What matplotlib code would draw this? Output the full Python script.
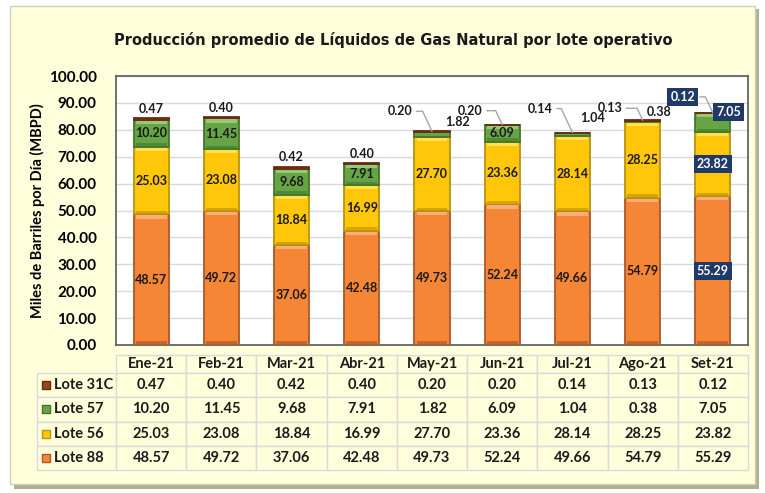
import matplotlib.pyplot as plt
import numpy as np
from matplotlib.patches import Rectangle

# data
months = ['Ene-21', 'Feb-21', 'Mar-21', 'Abr-21', 'May-21', 'Jun-21', 'Jul-21', 'Ago-21', 'Set-21']
lote_88 = [48.57, 49.72, 37.06, 42.48, 49.73, 52.24, 49.66, 54.79, 55.29]
lote_56 = [25.03, 23.08, 18.84, 16.99, 27.70, 23.36, 28.14, 28.25, 23.82]
lote_57 = [10.20, 11.45, 9.68, 7.91, 1.82, 6.09, 1.04, 0.38, 7.05]
lote_31c = [0.47, 0.40, 0.42, 0.40, 0.20, 0.20, 0.14, 0.13, 0.12]
series_names = ['Lote 31C', 'Lote 57', 'Lote 56', 'Lote 88']

# style
fill = {'Lote 88': '#F58636', 'Lote 56': '#FFC60A', 'Lote 57': '#67A446', 'Lote 31C': '#9A4420'}
edge = {'Lote 88': '#A8592A', 'Lote 56': '#B89410', 'Lote 57': '#44752E', 'Lote 31C': '#6A2A10'}
light = {'Lote 88': '#F9AE78', 'Lote 56': '#FFE24E', 'Lote 57': '#98C77A', 'Lote 31C': '#B8653F'}
dark = {'Lote 88': '#C4652A', 'Lote 56': '#D9A400', 'Lote 57': '#4F8A35', 'Lote 31C': '#6A2A10'}
cream = '#FFFFDC'
navy = '#1F3A68'
FONT = 'Lato'

W, H = 765, 493
fig = plt.figure(figsize=(W / 100, H / 100), dpi=100, facecolor='white')

# frame with shadow
fig.patches.append(Rectangle((14 / W, 1 - 489 / H), 745 / W, 480 / H, transform=fig.transFigure,
                             facecolor='#B4AE93', edgecolor='none', zorder=-3))
fig.patches.append(Rectangle((10 / W, 1 - 484 / H), 745 / W, 478 / H, transform=fig.transFigure,
                             facecolor=cream, edgecolor='#D3CFB5', lw=1, zorder=-2))

AX_L, AX_R, AX_T, AX_B = 116, 748, 76, 345
ax = fig.add_axes([AX_L / W, 1 - AX_B / H, (AX_R - AX_L) / W, (AX_B - AX_T) / H])
ax.set_facecolor('white')

x = np.arange(len(months))
bw = 0.5
stack = [('Lote 88', lote_88), ('Lote 56', lote_56), ('Lote 57', lote_57), ('Lote 31C', lote_31c)]
bottom = np.zeros(len(months))
containers = {}
for name, vals in stack:
    vals = np.array(vals)
    containers[name] = ax.bar(x, vals, bw, bottom=bottom, color=fill[name], edgecolor=edge[name],
                              linewidth=1.3, zorder=3)
    # bevel: light band at the top, darker band at the bottom of each segment
    big = vals > 2
    hl = np.where(big, 1.2, 0)
    ax.bar(x, hl, bw * 0.88, bottom=bottom + vals - hl - 0.35, color=light[name], linewidth=0, zorder=4)
    ax.bar(x, hl * 0.8, bw * 0.88, bottom=bottom + 0.35, color=dark[name], linewidth=0, zorder=4)
    bottom = bottom + vals
totals = bottom

ax.set_xlim(-0.5, len(months) - 0.5)
ax.set_ylim(0, 100)
ax.set_yticks(np.arange(0, 101, 10))
ax.set_yticklabels(['%.2f' % v for v in np.arange(0, 101, 10)], fontsize=11, fontweight='bold', family=FONT)
ax.tick_params(axis='y', length=0, pad=14)
ax.set_xticks([])
ax.grid(axis='y', color='#D9D9D9', lw=1, zorder=0)
for s in ax.spines.values():
    s.set_color('#595959')
    s.set_linewidth(1.2)
ax.set_ylabel('Miles de Barriles por Día (MBPD)', fontsize=10.5, fontweight='bold', family=FONT)
ax.yaxis.set_label_coords(-0.113, 0.5)

fig.text(393 / W, 1 - 40 / H, 'Producción promedio de Líquidos de Gas Natural por lote operativo',
         ha='center', va='center', fontsize=10.5, fontweight='bold', family='DejaVu Sans', color='#1A1A1A')

lab_kw = dict(fontsize=9, fontweight='bold', family=FONT, color='#1A1A1A')
box_kw = dict(boxstyle='square,pad=0.25', fc=navy, ec='none')

# centered labels for orange, yellow, and big green segments
for name in ['Lote 88', 'Lote 56']:
    vals = dict(stack)[name]
    anns = ax.bar_label(containers[name], labels=['%.2f' % v for v in vals], label_type='center', zorder=6, **lab_kw)
    anns[-1].set_color('white')
    anns[-1].set_bbox(box_kw)
green_inside = [v >= 5 for v in lote_57]
anns = ax.bar_label(containers['Lote 57'], labels=['%.2f' % v if g else '' for v, g in zip(lote_57, green_inside)],
                    label_type='center', zorder=6, **lab_kw)
anns[-1].set_text('')

lead = dict(arrowstyle='-', color='#A6A6A6', lw=1, shrinkA=1, shrinkB=0,
            connectionstyle='angle,angleA=0,angleB=115,rad=0')

# Lote 31C labels (offset pixels from bar top)
off_31c = [(0, 9), (0, 9), (0, 10), (0, 9), (-32, 20), (-32, 14), (-32, 24), (-33, 12), (-30, 16)]
for i, v in enumerate(lote_31c):
    dx, dy = off_31c[i]
    kw = dict(lab_kw)
    extra = {}
    if dx != 0:
        extra['arrowprops'] = lead
    if i == len(months) - 1:
        kw['color'] = 'white'
        extra['bbox'] = box_kw
    ax.annotate('%.2f' % v, xy=(x[i], totals[i]), xytext=(dx, dy), textcoords='offset pixels',
                ha='center', va='center', annotation_clip=False, zorder=7, **kw, **extra)

# small Lote 57 labels outside the bar
off_57 = {4: (26, 10), 6: (20, 15), 7: (16, 9)}
for i, (dx, dy) in off_57.items():
    top57 = lote_88[i] + lote_56[i] + lote_57[i]
    ax.annotate('%.2f' % lote_57[i], xy=(x[i], top57), xytext=(dx, dy), textcoords='offset pixels',
                ha='center', va='center', annotation_clip=False, zorder=7, **lab_kw)
i = len(months) - 1
mid57 = lote_88[i] + lote_56[i] + lote_57[i] / 2
ax.annotate('%.2f' % lote_57[i], xy=(x[i], mid57), xytext=(16, 11), textcoords='offset pixels',
            ha='center', va='center', annotation_clip=False, zorder=7, bbox=box_kw,
            **{**lab_kw, 'color': 'white'})

# data table, drawn cell by cell below the plot (pixel layout -> axes fraction)
def ax_x(px):
    return (px - AX_L) / (AX_R - AX_L)

def ax_y(py):
    return (AX_B - py) / (AX_B - AX_T)

rows = [lote_31c, lote_57, lote_56, lote_88]
lab_left, col_w = 37, (AX_R - AX_L) / len(months)
hdr_top, hdr_h, row_h = 355, 18, 24.25
cell_kw = dict(transform=ax.transAxes, clip_on=False, facecolor=cream, edgecolor='#DADADA', lw=1, zorder=5)
txt_kw = dict(transform=ax.transAxes, clip_on=False, fontsize=10.5, fontweight='bold', family=FONT,
              color='#1A1A1A', va='center', zorder=6)


def cell(px0, py0, pw, ph):
    ax.add_patch(Rectangle((ax_x(px0), ax_y(py0 + ph)), pw / (AX_R - AX_L), ph / (AX_B - AX_T), **cell_kw))


for j, m in enumerate(months):
    cx = AX_L + col_w * j
    cell(cx, hdr_top, col_w, hdr_h)
    ax.text(ax_x(cx + col_w / 2), ax_y(hdr_top + hdr_h / 2), m, ha='center', **txt_kw)
for k, (name, vals) in enumerate(zip(series_names, rows)):
    ry = hdr_top + hdr_h + row_h * k
    cell(lab_left, ry, AX_L - lab_left, row_h)
    ax.scatter([ax_x(lab_left + 9)], [ax_y(ry + row_h / 2)], transform=ax.transAxes, marker='s', s=30,
               color=fill[name], edgecolors=edge[name], linewidths=1, clip_on=False, zorder=7)
    ax.text(ax_x(lab_left + 17), ax_y(ry + row_h / 2), name, ha='left', **txt_kw)
    for j, v in enumerate(vals):
        cx = AX_L + col_w * j
        cell(cx, ry, col_w, row_h)
        ax.text(ax_x(cx + col_w / 2), ax_y(ry + row_h / 2), '%.2f' % v, ha='center', **txt_kw)

fig.savefig('out.png', dpi=100, facecolor=fig.get_facecolor())
